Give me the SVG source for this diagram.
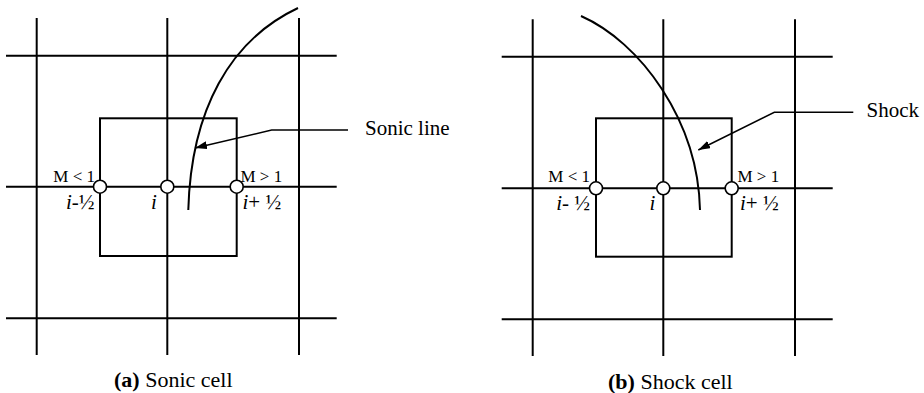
<svg xmlns="http://www.w3.org/2000/svg" width="924" height="393" viewBox="0 0 924 393">
<style>
.grid{stroke:#000;stroke-width:2;fill:none}
.cell{stroke:#000;stroke-width:2;fill:none}
.curve{stroke:#000;stroke-width:2;fill:none}
.lead{stroke:#000;stroke-width:1.5;fill:none}
.node{fill:#fff;stroke:#000;stroke-width:1.6}
text{font-family:"Liberation Serif","Times New Roman",serif;fill:#000}
.m{font-size:17px}
.idx{font-size:21px}
.lbl{font-size:21px}
.cap{font-size:22px}
</style>
<defs>
<marker id="ah" viewBox="0 0 12 8" refX="12" refY="4" markerWidth="12" markerHeight="8" markerUnits="userSpaceOnUse" orient="auto">
<path d="M0,0 L12,4 L0,8 Z" fill="#000"/>
</marker>
</defs>
<rect width="924" height="393" fill="#fff"/>

<g id="panel-a">
<g id="grid-a">
<line class="grid" x1="36.7" y1="18" x2="36.7" y2="355"/>
<line class="grid" x1="167.3" y1="18" x2="167.3" y2="355"/>
<line class="grid" x1="299" y1="18" x2="299" y2="355"/>
<line class="grid" x1="6" y1="55.7" x2="336.7" y2="55.7"/>
<line class="grid" x1="6" y1="186.7" x2="336.7" y2="186.7"/>
<line class="grid" x1="6" y1="318.3" x2="336.7" y2="318.3"/>
</g>
<g id="cell-a"><rect class="cell" x="100" y="118.3" width="136.7" height="137.7"/></g>
<g id="sonic-line"><path class="curve" d="M298,8 C230,40 191,110 188.3,210"/></g>
<g id="node-a-left"><circle class="node" cx="100" cy="186.7" r="6.5"/></g>
<g id="node-a-center"><circle class="node" cx="167.3" cy="186.7" r="6.5"/></g>
<g id="node-a-right"><circle class="node" cx="236.7" cy="186.7" r="6.5"/></g>
<text class="m" x="95" y="182" text-anchor="end">M &lt; 1</text>
<text class="idx" x="94.5" y="209" text-anchor="end"><tspan font-style="italic">i</tspan>-½</text>
<text class="idx" x="151" y="209" font-style="italic">i</text>
<text class="m" x="240.5" y="182">M &gt; 1</text>
<text class="idx" x="242.5" y="209"><tspan font-style="italic">i</tspan>+ ½</text>
<text class="lbl" x="365" y="135">Sonic line</text>
<text class="cap" x="114" y="386.5"><tspan font-weight="bold">(a)</tspan> Sonic cell</text>
</g>

<g id="panel-b">
<g id="grid-b">
<line class="grid" x1="532.7" y1="19.3" x2="532.7" y2="356"/>
<line class="grid" x1="663.3" y1="19.3" x2="663.3" y2="356"/>
<line class="grid" x1="795" y1="19.3" x2="795" y2="356"/>
<line class="grid" x1="501.7" y1="56.7" x2="832.7" y2="56.7"/>
<line class="grid" x1="501.7" y1="188.3" x2="832.7" y2="188.3"/>
<line class="grid" x1="501.7" y1="319.3" x2="832.7" y2="319.3"/>
</g>
<g id="cell-b"><rect class="cell" x="596" y="118.3" width="135.7" height="138.4"/></g>
<g id="shock"><path class="curve" d="M581,16 C640,42 698,120 700,210"/></g>
<g id="node-b-left"><circle class="node" cx="596" cy="188.3" r="6.5"/></g>
<g id="node-b-center"><circle class="node" cx="663.3" cy="188.3" r="6.5"/></g>
<g id="node-b-right"><circle class="node" cx="731.7" cy="188.3" r="6.5"/></g>
<text class="m" x="590" y="181.5" text-anchor="end">M &lt; 1</text>
<text class="idx" x="590" y="210" text-anchor="end"><tspan font-style="italic">i</tspan>- ½</text>
<text class="idx" x="649.5" y="210" font-style="italic">i</text>
<text class="m" x="737.5" y="181.5">M &gt; 1</text>
<text class="idx" x="740" y="210"><tspan font-style="italic">i</tspan>+ ½</text>
<text class="lbl" x="866.5" y="117">Shock</text>
<text class="cap" x="608" y="389"><tspan font-weight="bold">(b)</tspan> Shock cell</text>
</g>

<g id="connectors">
<polyline class="lead" points="348,130 271.7,130 195,148" marker-end="url(#ah)"/>
<polyline class="lead" points="853.3,112.3 774.3,112.3 698.3,150" marker-end="url(#ah)"/>
</g>
</svg>
